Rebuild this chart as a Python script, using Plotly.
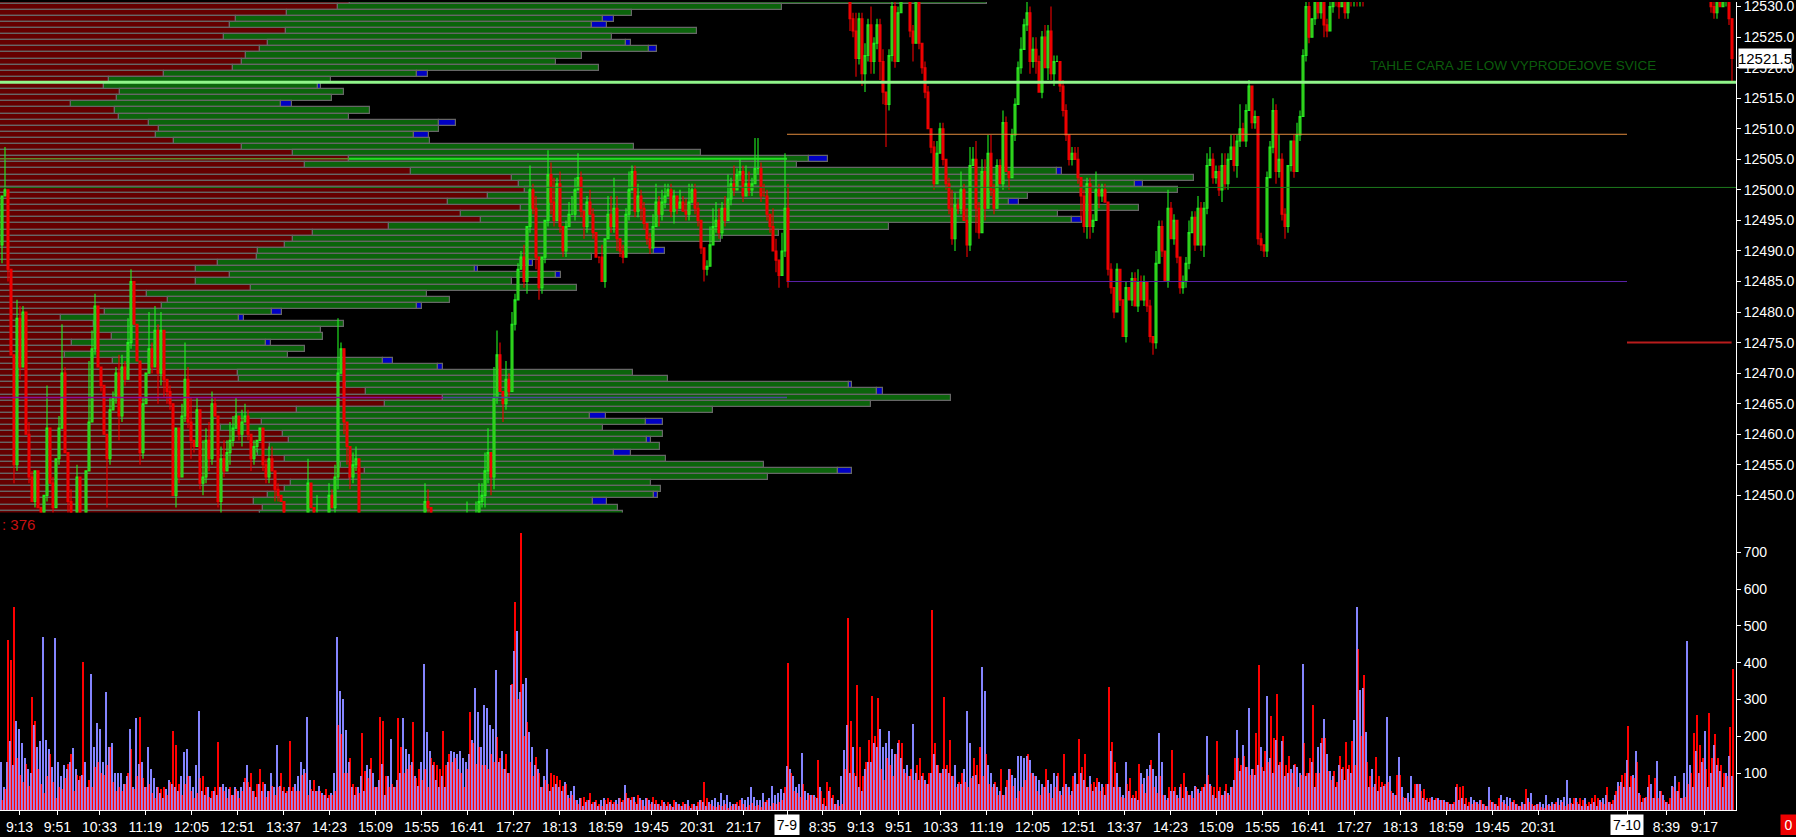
import plotly.graph_objects as go

# ---------- price profile (rows from 12531 down to 12447) ----------
profile_top_price = 12531
profile_sell = [350,338,287,236,230,286,224,268,260,246,
                242,233,164,109,104,120,117,71,115,119,
                149,159,156,174,242,293,349,305,411,512,
                519,525,488,448,521,461,481,389,313,293,
                285,258,257,218,196,230,196,251,147,168,
                162,105,61,94,95,112,72,96,65,113,
                165,238,239,346,366,443,385,297,237,262,
                221,283,289,270,258,285,341,365,350,291,
                285,268,254,263,260]
profile_total = [987,782,632,603,592,697,612,626,649,582,
                 556,599,417,331,318,344,332,281,370,349,
                 439,439,414,430,634,701,809,797,1057,1194,
                 1135,1178,1028,1009,1139,1058,1072,889,779,721,
                 650,654,592,529,475,556,512,577,427,450,
                 417,272,239,344,321,323,266,305,288,383,
                 438,633,668,849,877,951,871,713,590,646,
                 603,663,647,660,614,666,764,838,768,651,
                 661,654,593,618,623]
profile_extra = [0,0,0,11,15,0,0,5,8,0,
                 0,0,11,0,3,0,0,11,0,0,
                 17,0,15,0,0,0,19,0,5,0,
                 8,0,0,10,0,0,10,0,0,0,
                 0,11,0,4,3,5,0,0,0,0,
                 5,10,5,0,0,0,5,0,0,10,
                 5,0,0,3,6,0,0,0,16,17,
                 0,0,4,0,17,0,0,14,0,0,
                 0,4,14,0,0]

# ---------- candles: closes as offset from 12500, wicks in points ----------
price_base = 12500
first_open = -9
close_day1 = [
 -1,0,-13,-27,-45,-21,-29,-20,-40,-47,
 -51,-46,-52,-54,-50,-39,-48,-52,-44,-39,
 -30,-43,-51,-53,-56,-47,-56,-58,-46,-38,
 -26,-19,-29,-32,-40,-44,-36,-34,-30,-37,
 -29,-31,-25,-15,-22,-28,-43,-35,-30,-26,
 -29,-23,-30,-23,-31,-33,-35,-50,-39,-47,
 -37,-31,-38,-41,-42,-36,-48,-47,-41,-44,
 -35,-37,-51,-44,-46,-43,-41,-39,-37,-40,
 -38,-37,-40,-44,-42,-41,-39,
 -45,-47,-44,-46,-49,-50,-51,-53,-56,-58,
 -60,-60,-58,-57,-54,-48,-52,-55,-53,-56,
 -58,-56,-50,-52,-47,-30,-26,-38,-42,-47,
 -45,-44,-54,-57,-57,-58,-59,-60,-61,-60,
 -62,-63,-62,-61,-60,-62,-61,-60,-59,-60,
 -61,-60,-58,-56,-51,-52,-57,-58,-54,-56,
 -58,-60,-61,-60,-59,-60,-58,-57,-53,-55,
 -56,-53,-51,-50,-46,-43,-47,-34,-27,-33,
 -35,-31,-33,-22,-18,-13,
 -11,-15,-6,0,-3,-11,-16,-11,-5,2.5,
 -2,-5,1,-6,-10,-6,-4,-4,0,2,
 -3.5,-6,-2,-4,-7,-11,-11,-15,-8,-4,
 -6,-3,-8,-10,-11,-4,0,3,-3.5,-1,
 -3,-5.5,-8,-9.5,-6,-2,-4,-2,-1,0,
 -3.5,-1,-3,-2,-3.5,-4,-2,0,-3,-5,
 -9.5,-13,-12.5,-9,-6,-5,-7,-3,-5,-1.5,
 1,0,2.5,3,-1,1,0,1,3.5,3.5,
 -1,-1,-4,-6,-10,-11.5,-14,-10,-3,-15]
up_day1 = [
 0,7,0,0,0,3,2,1,0,2,
 1,0,0,0,0,7,0,1,0,2,
 8,1,0,2,0,2,0,0,0,10,
 3,2,0,0,0,0,2,1,1,3,
 2,1,4,2,0,0,0,1,0,6,
 1,4,1,3,0,0,1,0,0,0,
 2,6,2,4,0,2,0,6,2,3,
 2,1,0,2,3,2,3,2,3,0,
 2,2,1,0,1,0,0,
 0,1,2,2,0,1,0,0,0,0,
 0,0,0,0,0,4,0,0,3,0,
 0,0,2,1,2,9,1,0,0,0,
 2,2,0,0,0,0,0,0,0,0,
 0,0,0,0,0,0,0,0,0,0,
 0,0,0,0,3,2,0,0,0,0,
 0,0,0,0,0,0,0,0,2,0,
 0,2,3,2,3,4,0,5,4,2,
 0,3,1,2,1,1,
 1,2,0,4,1,2,0,0,0,4,
 2,4,1,2,0,1,2,3,2,4,
 1,0,1,2,1,0,0,2,0,3,
 3,5,2,0,1,1,3,1,1,2,
 1,1,0,1,2,3,1,2,2,1,
 1,1,0,2,1,2,3,1,1,1,
 0,0,1,3,3,3,2,1,2,4,
 1,3,1,2,1,3,2,1,5,5,
 1,2,1,0,3,2,0,3,9,4]
down_day1 = [
 3,0,2,0,3,1,2,0,0,1,
 0,1,0,2,0,1,0,1,0,1,
 0,0,2,0,3,0,2,1,1,0,
 0,1,0,1,0,8,1,0,1,4,
 1,1,0,1,0,0,2,1,0,0,
 1,0,5,2,3,2,1,0,2,1,
 0,1,1,3,1,0,1,2,1,2,
 1,0,1,2,1,0,2,1,0,1,
 2,0,1,2,1,1,0,
 1,1,1,0,2,1,0,1,0,0,
 0,0,0,0,0,1,0,0,0,0,
 0,0,1,0,3,2,0,2,3,2,
 1,1,0,0,0,0,0,0,0,0,
 0,0,0,0,0,0,0,0,0,0,
 0,0,0,0,1,2,0,0,0,0,
 0,0,0,0,0,0,0,0,1,1,
 0,1,0,1,2,2,3,2,1,0,
 3,1,1,0,1,0,
 0,1,2,1,1,2,2,1,1,1,
 2,1,0,1,1,1,0,0,1,0,
 1,2,1,0,1,0,1,0,1,0,
 1,1,2,1,1,0,1,0,1,1,
 2,1,1,1,0,0,2,1,1,0,
 1,2,1,0,0,1,1,0,1,1,
 1,2,1,0,0,1,1,1,1,0,
 1,1,0,1,1,0,1,1,0,1,
 1,0,1,1,0,2,2,0,1,1]
close_day2 = [
 28,26,21.5,28,19,22,27,21,24,27,
 21,16,14,22,30,21,29,31,33,31,
 26,24,31,24,20,16,10,7,1,6,
 10,5,1,-3,-8,-2.5,-3,0,-5,-9,
 4,5,-3,-7,3,-3,6,0,-3,4,
 1,11,3,2,9,14,20,23,27,29,
 21,23,21,16,25,20,26,19,21,21,
 17,13,9,5,6,5,2,-1,-6,1,
 -6,-5,0,-1,0,-2,-13,-16,-20,-13,
 -18,-24,-16,-18,-14.5,-19,-15,-18,-15,-19,
 -24,-25,-12,-6,-10,-15,-3,-8,-5,-11,
 -16,-15,-12,-7,-4.5,-9,-3,-9,-3,4,
 5,2,3,0,4,1,5,7,4,8,
 10,8,13,17,11,12,-8,-9,-10,2,
 7,13,3,5,-4,-6,4,8,3,9,
 12,22,30,25,28,31,29,31,27,26,
 30,33,31,30,32,29,33,31,33,31,
 33,31,34,33,35,33]
up_day2 = [
 1,1,3,1,1,2,1,3,1,1,
 1,2,0,1,2,1,1,1,0,1,
 2,1,1,1,0,1,1,0,1,2,
 1,1,0,1,3,2,1,3,1,2,
 3,2,3,1,2,2,3,3,1,1,
 1,2,1,0,1,1,1,2,1,2,
 1,2,2,1,1,2,1,4,1,1,
 0,1,1,0,1,1,2,0,1,1,
 1,1,3,1,1,1,0,1,0,1,
 0,0,1,0,1,1,2,1,1,0,
 1,0,2,1,1,0,3,1,1,0,
 0,1,1,2,1,1,2,1,1,2,
 2,1,1,1,2,2,1,2,2,1,
 4,1,1,1,0,1,0,1,0,1,
 1,2,1,4,1,1,0,0,1,2,
 1,1,1,2,0,1,2,1,0,1,
 1,0,1,2,1,0,1,2,0,1,
 0,1,0,1,0,1]
down_day2 = [
 2,1,3,1,2,3,1,2,2,1,
 3,2,7,1,1,1,0,0,0,0,
 1,3,0,1,1,1,0,1,1,0,
 0,1,1,1,1,2,1,1,0,2,
 1,0,4,1,0,2,0,1,1,0,
 0,1,0,2,0,1,0,1,0,1,
 2,1,2,0,1,0,2,1,2,0,
 1,1,1,1,1,0,1,4,1,2,
 2,1,0,2,1,0,1,1,1,0,
 1,0,1,0,1,0,1,0,1,1,
 1,2,1,0,1,0,1,0,1,1,
 1,1,1,1,0,1,0,1,2,1,
 0,1,1,1,2,1,1,0,1,2,
 1,0,1,0,1,1,1,1,1,1,
 0,1,2,1,1,2,1,1,1,0,
 1,0,1,1,0,1,1,1,2,1,
 0,1,1,2,0,1,1,1,1,1,
 1,1,0,1,0,1]
close_day3 = [30,29,32,30,31,32,28,21.5]
up_day3 = [1,1,0,1,1,1,1,0]
down_day3 = [1,1,1,0,0,1,1,4]
bar_minutes = 3
day_starts = [2, 850, 1711]

# ---------- volume histograms (one value per bar) ----------
volume_start = 1
volume_red = [
 25,55,460,405,550,140,95,75,125,65,
 306,240,110,70,45,90,150,75,30,60,
 55,85,125,150,50,95,90,400,60,80,
 60,115,130,100,95,120,170,75,50,60,
 50,70,100,165,55,90,250,85,60,70,
 45,30,60,55,60,40,75,214,175,70,
 40,70,90,50,30,45,85,90,60,35,
 50,60,183,60,50,30,60,40,55,30,
 50,85,75,100,50,70,110,75,35,50,
 65,40,60,100,60,50,185,60,50,50,
 95,100,40,55,80,50,50,40,55,40,
 40,50,230,205,100,100,140,70,60,45,
 207,105,85,140,60,60,252,240,90,60,
 70,60,248,170,100,110,120,237,85,110,
 80,110,60,140,130,120,110,214,120,150,
 130,140,110,100,60,110,266,180,125,170,
 120,120,110,150,130,198,140,110,150,100,
 340,563,300,750,200,237,130,90,142,100,
 60,80,70,100,95,90,80,65,70,30,
 40,25,15,30,35,25,45,20,25,15,
 10,25,30,25,20,15,30,25,45,30,
 35,20,40,25,10,30,15,35,25,15,
 25,15,20,10,25,15,10,20,15,10,
 15,10,20,25,76,30,15,10,8,12,
 10,15,5,10,15,20,25,15,8,12,
 18,10,12,8,20,25,10,18,14,20,
 25,60,399,100,50,45,35,70,25,40,
 40,35,134,50,30,75,60,40,15,10,
 15,110,520,240,100,338,170,90,130,190,
 309,200,302,110,80,140,120,90,150,190,
 180,100,90,110,80,120,140,100,70,100,
 543,180,120,100,307,120,189,90,60,75,
 100,75,60,85,140,120,170,90,150,70,
 60,75,40,110,40,80,110,65,30,50,
 60,80,150,100,90,50,40,60,110,45,
 30,60,100,40,151,60,40,90,70,192,
 115,150,60,70,75,85,50,60,70,334,
 183,130,60,35,30,70,85,40,50,125,
 70,45,90,134,60,45,90,40,25,60,
 161,60,30,70,100,50,40,30,60,45,
 60,70,95,65,60,185,60,40,70,40,
 60,140,140,120,145,115,95,110,208,392,
 115,160,130,255,195,315,130,200,120,145,
 100,125,60,95,180,100,140,284,100,100,
 195,195,105,80,105,75,145,115,183,120,
 185,120,437,200,365,130,90,60,144,90,
 75,70,75,50,40,95,95,35,30,20,
 30,70,70,50,55,30,30,25,30,25,
 25,20,20,15,20,70,60,65,30,20,
 15,20,15,25,15,10,25,20,15,30,
 20,15,10,20,25,15,10,15,55,20,
 15,12,15,8,5,12,10,15,20,12,
 20,10,15,18,30,20,30,25,15,20,
 30,40,30,20,15,60,20,25,50,65,
 95,100,228,90,85,130,40,30,35,95,
 30,85,30,50,25,20,30,60,50,75,
 30,35,70,100,208,257,175,140,110,261,
 140,205,140,120,100,90,225,381]
volume_blue = [
 130,60,130,185,120,240,220,180,140,110,
 100,230,170,185,468,190,165,115,465,130,
 90,120,110,130,168,110,80,95,130,60,
 367,170,236,220,130,318,170,180,100,100,
 100,70,90,220,60,248,125,130,60,171,
 110,85,60,45,30,55,80,70,60,50,
 90,157,165,90,60,120,268,50,40,60,
 30,50,40,60,70,60,55,40,60,50,
 60,75,120,60,50,35,70,50,70,50,
 100,60,174,65,50,45,60,50,70,90,
 130,110,252,80,50,50,65,45,40,30,
 45,100,468,322,300,215,130,60,40,60,
 90,50,120,110,100,60,80,125,40,90,
 191,60,80,100,248,165,150,130,90,65,
 130,396,210,160,120,80,60,90,60,130,
 160,155,150,160,140,130,150,190,331,266,
 170,285,275,230,220,380,130,160,110,100,
 338,430,486,318,340,358,210,170,120,110,
 60,90,164,50,60,70,60,50,75,40,
 50,65,25,30,10,20,25,15,20,10,
 25,30,15,20,15,25,30,20,66,30,
 25,35,15,30,25,30,25,20,15,15,
 10,20,10,15,8,20,15,10,15,25,
 5,15,10,25,20,10,20,25,30,20,
 45,25,40,20,15,15,10,30,25,35,
 60,35,25,25,45,20,30,65,40,45,
 55,45,118,110,90,60,70,153,50,45,
 40,40,30,60,15,10,50,30,15,25,
 90,162,230,100,170,90,60,50,110,130,
 130,180,170,219,170,180,213,165,150,180,
 140,110,120,90,231,100,80,90,80,70,
 100,150,120,100,110,110,100,90,120,70,
 70,110,267,180,90,95,70,386,321,120,
 100,70,60,50,40,60,110,95,85,145,
 145,140,145,135,100,90,80,70,60,80,
 70,100,90,50,60,70,60,50,100,70,
 100,80,60,90,50,60,75,70,40,70,
 160,60,100,60,40,130,50,30,30,25,
 100,85,110,120,110,90,207,130,40,30,
 50,50,40,60,30,60,40,50,65,55,
 50,60,200,70,40,30,50,40,50,45,
 60,80,215,105,175,115,275,110,95,120,
 170,105,309,140,100,190,120,185,90,100,
 110,120,115,100,396,90,100,130,60,170,
 180,245,150,105,90,60,120,110,80,110,
 100,243,550,325,329,210,60,110,70,50,
 60,65,252,90,45,40,144,60,30,45,
 90,30,70,70,30,25,20,35,25,30,
 25,25,20,15,15,60,25,30,15,10,
 35,25,20,25,15,10,60,20,15,10,
 40,25,35,30,20,15,10,20,15,30,
 45,10,15,20,15,40,15,20,15,30,
 25,35,81,30,15,30,15,10,30,10,
 15,20,10,25,30,40,20,15,40,75,
 75,60,135,60,95,158,45,20,30,60,
 70,30,133,50,40,20,15,65,90,50,
 30,100,458,120,60,160,100,130,214,60,
 100,175,120,105,60,100,145,90]

# ---------- axes ----------
time_ticks = [19.5,57.4,99.5,145.4,191.4,237.3,283.6,329.5,375.4,421.4,467.3,513.6,559.5,
              605.4,651.3,697.2,743.5,787.5,822.4,860.6,898.5,940.6,986.5,1032.5,1078.4,
              1124.3,1170.6,1216.3,1262.3,1308.3,1354.3,1400.3,1446.3,1492.3,1538.3,
              1627.2,1666.4,1704.4]
time_labels = ['9:13','9:51','10:33','11:19','12:05','12:51','13:37','14:23','15:09','15:55','16:41','17:27','18:13',
               '18:59','19:45','20:31','21:17','','8:35','9:13','9:51','10:33','11:19','12:05','12:51',
               '13:37','14:23','15:09','15:55','16:41','17:27','18:13','18:59','19:45','20:31',
               '','8:39','9:17']
price_ticks = list(range(12450, 12531, 5))
volume_ticks = [100,200,300,400,500,600,700]

# ---------- levels ----------
lines = [
 (12517.6, 0, 1736, '#90f58a', 3),
 (12500.4, 0, 1736, '#1d7a1d', 1),
 (12505.1, 0, 349, '#5f8a2a', 1.5),
 (12505.1, 349, 787, '#22e022', 2),
 (12509.1, 787, 1627, '#e08a3c', 1),
 (12485.0, 787, 1627, '#5a22a8', 1),
 (12466.0, 0, 443, '#8a109a', 1.5),
 (12466.0, 443, 787, '#4a4a9a', 1.5),
 (12475.0, 1627, 1731.6, '#b81c1c', 2),
]

X_MAX = 1736
PX_PER_POINT = 6.14
FULL_H = 812.0
PANE_Y = 513.0
price_top = 12530.75
price_bottom = price_top - PANE_Y / PX_PER_POINT
vol_top = (FULL_H - PANE_Y) / 0.37

n = len(profile_total)
rows = [profile_top_price - i for i in range(n)]
green_len = [t - s for t, s in zip(profile_total, profile_sell)]

FONT = 'Liberation Sans'
GREY = '#666666'
fig = go.Figure()
row_line = dict(color=GREY, width=1.2)
fig.add_trace(go.Bar(y=rows, x=profile_sell, orientation='h', width=1, xaxis='x', yaxis='y',
                     marker=dict(color='#650000', line=row_line), showlegend=False))
fig.add_trace(go.Bar(y=rows, x=green_len, base=profile_sell, orientation='h', width=1, xaxis='x', yaxis='y',
                     marker=dict(color='#0b640b', line=row_line), showlegend=False))
ey = [r for r, e in zip(rows, profile_extra) if e]
ex = [e for e in profile_extra if e]
eb = [t for t, e in zip(profile_total, profile_extra) if e]
fig.add_trace(go.Bar(y=ey, x=ex, base=eb, orientation='h', width=1, xaxis='x', yaxis='y',
                     marker=dict(color='#0000c4', line=row_line), showlegend=False))

# candles
def candle(closes, ups, downs, start, open0):
    m = min(len(closes), len(ups), len(downs))
    closes, ups, downs = closes[:m], ups[:m], downs[:m]
    o = [open0] + closes[:-1]
    hi = [max(a, b) + u for a, b, u in zip(o, closes, ups)]
    lo = [min(a, b) - d for a, b, d in zip(o, closes, downs)]
    xs = [start + bar_minutes * i for i in range(m)]
    fig.add_trace(go.Candlestick(
        x=xs, open=[price_base + v for v in o], high=[price_base + v for v in hi],
        low=[price_base + v for v in lo], close=[price_base + v for v in closes],
        xaxis='x3', yaxis='y', showlegend=False, whiskerwidth=0,
        increasing=dict(line=dict(color='#22f022', width=1.1), fillcolor='#48a814'),
        decreasing=dict(line=dict(color='#f00000', width=1.1), fillcolor='#f00000')))
candle(close_day1, up_day1, down_day1, day_starts[0], first_open)
candle(close_day2, up_day2, down_day2, day_starts[1], 31)
candle(close_day3, up_day3, down_day3, day_starts[2], 31)

for level, x0, x1, color, w in lines:
    fig.add_trace(go.Scatter(x=[x0, x1], y=[level, level], mode='lines', xaxis='x4', yaxis='y',
                             line=dict(color=color, width=w), showlegend=False, hoverinfo='skip'))

# volume: blue column, red column shifted one minute, shared column blended
vx = [volume_start + bar_minutes * i for i in range(len(volume_red))]
vshared = [min(r, b) for r, b in zip(volume_red, volume_blue)]
fig.add_trace(go.Bar(x=vx, y=volume_blue, width=2, xaxis='x', yaxis='y2',
                     marker=dict(color='#8484ff', line=dict(width=0)), showlegend=False))
fig.add_trace(go.Bar(x=[v + 1 for v in vx], y=volume_red, width=2, xaxis='x', yaxis='y2',
                     marker=dict(color='#ff0000', line=dict(width=0)), showlegend=False))
fig.add_trace(go.Bar(x=[v + 0.5 for v in vx], y=vshared, width=1, xaxis='x', yaxis='y2',
                     marker=dict(color='#d86aa8', line=dict(width=0)), showlegend=False))

split = (FULL_H - PANE_Y) / FULL_H
axis_common = dict(showgrid=False, zeroline=False, linecolor='white', linewidth=1, tickcolor='white',
                   ticks='outside', ticklen=4, tickwidth=1, ticklabeloverflow='allow',
                   tickfont=dict(family=FONT, size=14, color='white'))
fig.update_layout(
    width=1796, height=837, autosize=False, margin=dict(l=0, r=60, t=0, b=25, pad=0),
    paper_bgcolor='black', plot_bgcolor='black', barmode='overlay', bargap=0, boxgap=0.08, showlegend=False,
    xaxis=dict(range=[0, X_MAX], domain=[0, 1], anchor='y2', tickmode='array', tickvals=time_ticks,
               ticktext=time_labels, showline=True, **axis_common),
    xaxis3=dict(range=[0, X_MAX], domain=[0, 1], overlaying='x', anchor='y', visible=False,
                rangeslider=dict(visible=False)),
    xaxis4=dict(range=[0, X_MAX], domain=[0, 1], overlaying='x', anchor='y', visible=False),
    yaxis=dict(range=[price_bottom, price_top], domain=[split, 1], side='right', anchor='x', position=1,
               tickmode='array', tickvals=price_ticks, ticktext=['%.1f' % v for v in price_ticks],
               showline=True, **axis_common),
    yaxis2=dict(range=[0, vol_top], domain=[0, split], side='right', anchor='x', tickmode='array',
                tickvals=volume_ticks, ticktext=[str(v) for v in volume_ticks], showline=True, **axis_common),
    annotations=[
        dict(text='TAHLE CARA JE LOW VYPRODEJOVE SVICE', xref='x', yref='y', x=1513, y=12520.4, showarrow=False,
             font=dict(family=FONT, size=13.5, color='#0c5c0c')),
        dict(text='12521.5', xref='paper', yref='y', x=(1765 / X_MAX), xanchor='center', y=12521.45, showarrow=False,
             bgcolor='white', width=52, height=19, borderpad=0, font=dict(family=FONT, size=15, color='black')),
        dict(text=': 376', xref='x', yref='y2', x=0, xanchor='left', y=775, showarrow=False,
             font=dict(family=FONT, size=15, color='#c81010')),
        dict(text='7-9', xref='x', yref='paper', x=787.3, y=-15.5 / FULL_H, yanchor='middle', showarrow=False,
             bgcolor='white', width=24, height=20, borderpad=0, font=dict(family=FONT, size=14, color='black')),
        dict(text='7-10', xref='x', yref='paper', x=1627.2, y=-15.5 / FULL_H, yanchor='middle', showarrow=False,
             bgcolor='white', width=32, height=20, borderpad=0, font=dict(family=FONT, size=14, color='black')),
        dict(text='0', xref='paper', yref='paper', x=(1788.7 / X_MAX), xanchor='center', y=-15.5 / FULL_H,
             yanchor='middle', showarrow=False, bgcolor='#ee0000', width=15, height=20, borderpad=0,
             font=dict(family=FONT, size=14, color='white')),
    ],
)
fig.write_html('out.html', config=dict(displayModeBar=False),
               post_script="document.body.style.margin='-2px 0 0 0';document.body.style.background='black';document.body.style.overflow='hidden';")
